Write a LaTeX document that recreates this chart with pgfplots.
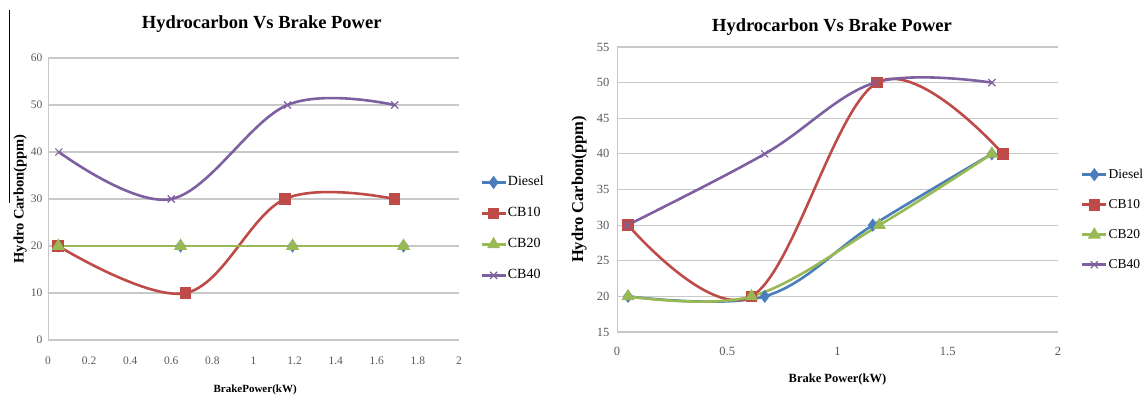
\documentclass[border=0pt]{standalone}
\usepackage{fontspec}
\setmainfont{Liberation Serif}
\usepackage{pgfplots}
\pgfplotsset{compat=1.18}
\definecolor{exblue}{RGB}{74,126,187}
\definecolor{exred}{RGB}{190,75,72}
\definecolor{exgreen}{RGB}{152,185,84}
\definecolor{expurple}{RGB}{125,96,160}
\definecolor{exgrid}{RGB}{200,200,200}
\pgfplotsset{
 hcstyle/.style={
  scale only axis, anchor=south west,
  axis x line*=bottom, axis y line*=left,
  axis line style={exgrid, line width=1pt, -},
  ymajorgrids, grid style={exgrid, line width=1.2pt},
  major tick length=0pt,
  tick label style={text=black!65},
  /pgf/number format/assume math mode=true,
  title style={font=\bfseries\fontsize{18.5}{20}\selectfont, anchor=center, yshift=-8pt},
  ylabel style={anchor=center},
  xlabel style={anchor=center},
  legend style={draw=none, fill=none, anchor=west,
    nodes={inner sep=1pt, text height=10pt, text depth=3pt}},
  legend cell align=left,
  legend image code/.code={\draw[mark repeat=2,mark phase=2,#1] plot coordinates {(0pt,0pt) (12pt,0pt) (24pt,0pt)};},
  clip=false,
 },
 sD/.style={color=exblue, line width=2.6pt, mark=diamond*, mark size=4.5pt, mark options={solid}},
 sA/.style={color=exred, line width=2.6pt, mark=square*, mark size=4.5pt, mark options={solid}},
 sB/.style={color=exgreen, line width=2.6pt, mark=triangle*, mark size=5pt, mark options={solid}},
 sC/.style={color=expurple, line width=2.6pt, mark=x, mark size=5pt, mark options={solid, line width=1.2pt}},
}
\begin{document}
\begin{tikzpicture}
\path[use as bounding box] (0pt,0pt) rectangle (1145pt,401pt);
\draw[black, line width=1pt] (9pt,391pt) -- (9pt,198pt);
% ---------------- left chart
\begin{axis}[hcstyle,
  at={(48pt,61pt)}, width=411pt, height=282pt,
  xmin=0, xmax=2, ymin=0, ymax=60,
  xtick={0,0.2,0.4,0.6,0.8,1,1.2,1.4,1.6,1.8,2},
  ytick={0,10,20,30,40,50,60},
  tick label style={font=\fontsize{11.5}{13}\selectfont},
  xticklabel style={yshift=-13pt},
  yticklabel style={xshift=-2pt},
  title={Hydrocarbon Vs Brake Power},
  title style={at={(axis description cs:0.52,1.128)}},
  ylabel={Hydro Carbon(ppm)},
  ylabel style={font=\bfseries\fontsize{14.5}{16}\selectfont, at={(axis description cs:-0.068,0.5)}},
  xlabel={BrakePower(kW)},
  xlabel style={font=\bfseries\fontsize{11}{13}\selectfont, at={(axis description cs:0.504,-0.176)}},
  legend style={at={(axis description cs:1.044,0.394)}, row sep=16pt, font=\fontsize{14}{16}\selectfont},
]
\addplot[sD] coordinates {(0.05,20) (0.645,20) (1.19,20) (1.73,20)};
\addplot[sA, smooth, tension=0.6] coordinates {(0.05,20) (0.67,10) (1.153,30) (1.687,30)};
\addplot[sB] coordinates {(0.05,20) (0.645,20) (1.19,20) (1.73,20)};
\addplot[sC, smooth, tension=0.6] coordinates {(0.053,40) (0.6,30) (1.165,50) (1.687,50)};
\legend{Diesel,CB10,CB20,CB40}
\end{axis}
% ---------------- right chart
\begin{axis}[hcstyle,
  at={(617pt,69pt)}, width=441pt, height=285pt,
  xmin=0, xmax=2, ymin=15, ymax=55,
  xtick={0,0.5,1,1.5,2},
  ytick={15,20,25,30,35,40,45,50,55},
  tick label style={font=\fontsize{12.5}{14}\selectfont},
  xticklabel style={yshift=-12pt},
  yticklabel style={xshift=-4pt},
  title={Hydrocarbon Vs Brake Power},
  title style={at={(axis description cs:0.4875,1.077)}},
  ylabel={Hydro Carbon(ppm)},
  ylabel style={font=\bfseries\fontsize{16.5}{18}\selectfont, at={(axis description cs:-0.086,0.5)}},
  xlabel={Brake Power(kW)},
  xlabel style={font=\bfseries\fontsize{12.5}{14}\selectfont, at={(axis description cs:0.50,-0.168)}},
  legend style={at={(axis description cs:1.045,0.394)}, row sep=15pt, font=\fontsize{13.5}{15}\selectfont},
]
\addplot[sD, smooth, tension=0.6] coordinates {(0.05,20) (0.67,20) (1.16,30) (1.70,40)};
\addplot[sA, smooth, tension=0.6] coordinates {(0.05,30) (0.61,20) (1.18,50) (1.75,40)};
\addplot[sB, smooth, tension=0.6] coordinates {(0.05,20) (0.61,20) (1.19,30) (1.70,40)};
\addplot[sC, smooth, tension=0.6] coordinates {(0.047,30) (0.67,40) (1.17,50) (1.70,50)};
\legend{Diesel,CB10,CB20,CB40}
\end{axis}
\end{tikzpicture}
\end{document}
